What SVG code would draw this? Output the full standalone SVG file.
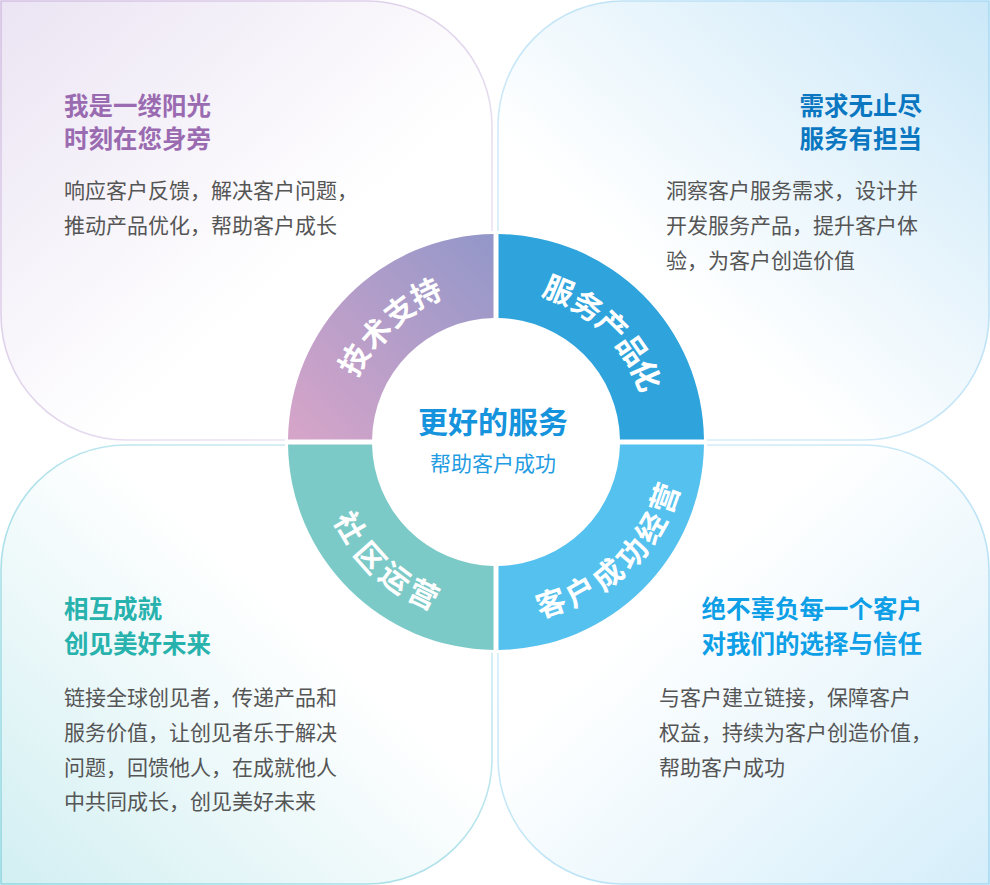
<svg xmlns="http://www.w3.org/2000/svg" width="990" height="885" viewBox="0 0 990 885">
<defs>
<linearGradient id="gTL" x1="0" y1="0" x2="1" y2="1"><stop offset="0" stop-color="#ebe4f3"/><stop offset="0.6" stop-color="#ffffff"/></linearGradient>
<linearGradient id="sTL" x1="0" y1="0" x2="1" y2="1"><stop offset="0" stop-color="#d2bfe2"/><stop offset="1" stop-color="#f2eef7"/></linearGradient>
<linearGradient id="gTR" x1="0" y1="1" x2="1" y2="0"><stop offset="0.35" stop-color="#ffffff"/><stop offset="1" stop-color="#cbe8f8"/></linearGradient>
<linearGradient id="sTR" x1="0" y1="1" x2="1" y2="0"><stop offset="0" stop-color="#e3f3fb"/><stop offset="1" stop-color="#a9d9f3"/></linearGradient>
<linearGradient id="gBL" x1="0" y1="1" x2="1" y2="0"><stop offset="0" stop-color="#d2eff2"/><stop offset="0.6" stop-color="#ffffff"/></linearGradient>
<linearGradient id="sBL" x1="0" y1="1" x2="1" y2="0"><stop offset="0" stop-color="#8fd6e0"/><stop offset="1" stop-color="#d8f0f6"/></linearGradient>
<linearGradient id="gBR" x1="0" y1="0" x2="1" y2="1"><stop offset="0.35" stop-color="#ffffff"/><stop offset="1" stop-color="#d5eefa"/></linearGradient>
<linearGradient id="sBR" x1="0" y1="0" x2="1" y2="1"><stop offset="0" stop-color="#e0f2fb"/><stop offset="1" stop-color="#a3d9f2"/></linearGradient>
<linearGradient id="gRing" gradientUnits="userSpaceOnUse" x1="300" y1="430" x2="494" y2="240"><stop offset="0" stop-color="#d4a4c9"/><stop offset="1" stop-color="#9397c9"/></linearGradient>
<style>
.cjk{font-family:"Noto Sans CJK SC","Noto Sans",sans-serif;}
.title{font-size:24.5px;font-weight:700;}
.body{font-size:21px;fill:#555555;}
.seg{font-size:30px;font-weight:700;fill:#ffffff;text-anchor:middle;dominant-baseline:central;}
.petal{stroke-width:1.6;}
</style>
</defs>

<g id="petal-top-left">
<path class="petal" d="M1,1 H367 A125,125 0 0 1 492,126 V440 H126 A125,125 0 0 1 1,315 Z" fill="url(#gTL)" stroke="url(#sTL)"/>
<text class="cjk title" fill="#9a6bb1" x="64" y="115">我是一缕阳光</text>
<text class="cjk title" fill="#9a6bb1" x="64" y="148">时刻在您身旁</text>
<text class="cjk body" x="64" y="198">响应客户反馈，解决客户问题，</text>
<text class="cjk body" x="64" y="233">推动产品优化，帮助客户成长</text>
</g>

<g id="petal-top-right">
<path class="petal" d="M623,1 H989 V315 A125,125 0 0 1 864,440 H498 V126 A125,125 0 0 1 623,1 Z" fill="url(#gTR)" stroke="url(#sTR)"/>
<text class="cjk title" fill="#0b77c1" x="922" y="115" text-anchor="end">需求无止尽</text>
<text class="cjk title" fill="#0b77c1" x="922" y="148" text-anchor="end">服务有担当</text>
<text class="cjk body" x="666" y="198">洞察客户服务需求，设计并</text>
<text class="cjk body" x="666" y="233">开发服务产品，提升客户体</text>
<text class="cjk body" x="666" y="268">验，为客户创造价值</text>
</g>

<g id="petal-bottom-left">
<path class="petal" d="M126,445 H492 V759 A125,125 0 0 1 367,884 H1 V570 A125,125 0 0 1 126,445 Z" fill="url(#gBL)" stroke="url(#sBL)"/>
<text class="cjk title" fill="#27b2ad" x="64" y="618">相互成就</text>
<text class="cjk title" fill="#27b2ad" x="64" y="653">创见美好未来</text>
<text class="cjk body" x="64" y="705">链接全球创见者，传递产品和</text>
<text class="cjk body" x="64" y="740">服务价值，让创见者乐于解决</text>
<text class="cjk body" x="64" y="775">问题，回馈他人，在成就他人</text>
<text class="cjk body" x="64" y="809">中共同成长，创见美好未来</text>
</g>

<g id="petal-bottom-right">
<path class="petal" d="M498,445 H864 A125,125 0 0 1 989,570 V884 H623 A125,125 0 0 1 498,759 Z" fill="url(#gBR)" stroke="url(#sBR)"/>
<text class="cjk title" fill="#0e9fe7" x="922" y="618" text-anchor="end">绝不辜负每一个客户</text>
<text class="cjk title" fill="#0e9fe7" x="922" y="653" text-anchor="end">对我们的选择与信任</text>
<text class="cjk body" x="659" y="705">与客户建立链接，保障客户</text>
<text class="cjk body" x="659" y="740">权益，持续为客户创造价值，</text>
<text class="cjk body" x="659" y="775">帮助客户成功</text>
</g>

<g id="ring-backdrop">
<circle cx="496" cy="442" r="211" fill="#ffffff"/>
</g>

<g id="ring-tech-support">
<path d="M288.02,439.5 A208,208 0 0 1 493.5,234.02 L493.5,318.03 A124,124 0 0 0 372.03,439.5 Z" fill="url(#gRing)"/>
<text class="cjk seg" transform="translate(352.4,358.7) rotate(-60)">技</text>
<text class="cjk seg" transform="translate(374.1,332.3) rotate(-48.5)">术</text>
<text class="cjk seg" transform="translate(398.4,309.4) rotate(-36.9)">支</text>
<text class="cjk seg" transform="translate(425.1,291.7) rotate(-25.2)">持</text>
</g>

<g id="ring-service-product">
<path d="M498.5,234.02 A208,208 0 0 1 703.98,439.5 L619.98,439.5 A124,124 0 0 0 498.5,318.03 Z" fill="#2ea3dc"/>
<text class="cjk seg" transform="translate(559.5,288.6) rotate(22.5)">服</text>
<text class="cjk seg" transform="translate(588.4,304.3) rotate(33.4)">务</text>
<text class="cjk seg" transform="translate(613.5,324.5) rotate(44.3)">产</text>
<text class="cjk seg" transform="translate(634.2,348.6) rotate(55.2)">品</text>
<text class="cjk seg" transform="translate(647.8,374.9) rotate(66.1)">化</text>
</g>

<g id="ring-customer-success">
<path d="M703.98,444.5 A208,208 0 0 1 498.5,649.98 L498.5,565.98 A124,124 0 0 0 619.98,444.5 Z" fill="#55c1ee"/>
<text class="cjk seg" transform="translate(550.2,601.2) rotate(-18.7)">客</text>
<text class="cjk seg" transform="translate(579.6,589.5) rotate(-29.1)">户</text>
<text class="cjk seg" transform="translate(606.7,573.2) rotate(-39.5)">成</text>
<text class="cjk seg" transform="translate(630.6,552.1) rotate(-49.9)">功</text>
<text class="cjk seg" transform="translate(649.5,526.7) rotate(-60.3)">经</text>
<text class="cjk seg" transform="translate(662.8,497.5) rotate(-70.8)">营</text>
</g>

<g id="ring-community">
<path d="M493.5,649.98 A208,208 0 0 1 288.02,444.5 L372.03,444.5 A124,124 0 0 0 493.5,565.98 Z" fill="#7ccac8"/>
<text class="cjk seg" transform="translate(351.8,526.2) rotate(59.6)">社</text>
<text class="cjk seg" transform="translate(371.7,556.2) rotate(48.3)">区</text>
<text class="cjk seg" transform="translate(396.2,576.3) rotate(37)">运</text>
<text class="cjk seg" transform="translate(424.3,592.4) rotate(25.6)">营</text>
</g>

<g id="center">
<text class="cjk" x="493" y="420" text-anchor="middle" dominant-baseline="central" font-size="30" font-weight="700" fill="#1593dc">更好的服务</text>
<text class="cjk" x="493" y="462" text-anchor="middle" dominant-baseline="central" font-size="21" fill="#1f9ce2">帮助客户成功</text>
</g>

<g id="connectors"/>
</svg>
